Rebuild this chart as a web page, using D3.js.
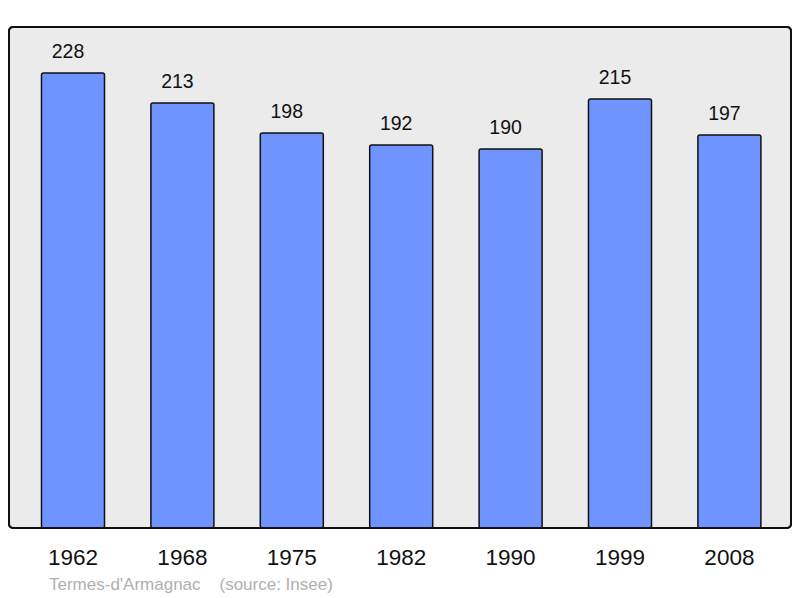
<!DOCTYPE html>
<html><head><meta charset="utf-8">
<script src="https://cdn.jsdelivr.net/npm/d3@7"></script>
<style>body{margin:0;background:#fff}svg{display:block}</style>
</head><body>
<script>
const years = ["1962","1968","1975","1982","1990","1999","2008"];
const population = [228,213,198,192,190,215,197];
const footerText = "Termes-d'Armagnac    (source: Insee)";

const W = 800, H = 598;
const svg = d3.select("body").append("svg").attr("width", W).attr("height", H);

// frame
svg.append("rect").attr("x", 9).attr("y", 27).attr("width", 782).attr("height", 501)
  .attr("rx", 4).attr("fill", "#ebebeb").attr("stroke", "#111").attr("stroke-width", 2);

const x = d3.scaleBand().domain(years).range([18.3, 784.1]).paddingInner(0.424).paddingOuter(0.212);
const y = d3.scaleLinear().domain([0, 250]).range([529, 29]);

const g = svg.append("g");
g.selectAll("rect.bar").data(population).join("rect").attr("class","bar")
  .attr("x", (d,i) => x(years[i]))
  .attr("y", d => y(d))
  .attr("width", x.bandwidth())
  .attr("height", d => y(0) - y(d) - 1)
  .attr("rx", 2)
  .attr("fill", "#7094ff").attr("stroke", "#111").attr("stroke-width", 1.5);

g.selectAll("text.val").data(population).join("text").attr("class","val")
  .attr("x", (d,i) => x(years[i]) + x.bandwidth()/2 - 5)
  .attr("y", d => y(d) - 15)
  .attr("text-anchor","middle")
  .attr("font-family","Liberation Sans, Arial, sans-serif")
  .attr("font-size", 19.5).attr("fill","#111")
  .text(d => d);

// redraw frame border on top
svg.append("rect").attr("x", 9).attr("y", 27).attr("width", 782).attr("height", 501)
  .attr("rx", 4).attr("fill", "none").attr("stroke", "#111").attr("stroke-width", 2);

const xAxis = svg.append("g").attr("transform","translate(0,529)")
  .call(d3.axisBottom(x).tickSize(0).tickPadding(0));
xAxis.select(".domain").remove();
xAxis.selectAll("text").attr("y", 36).attr("dy", 0)
  .attr("font-family","Liberation Sans, Arial, sans-serif")
  .attr("font-size", 22.5).attr("fill","#111");

svg.append("text").attr("x", 49).attr("y", 590)
  .attr("font-family","Liberation Sans, Arial, sans-serif")
  .attr("font-size", 17).attr("fill","#b0b0b0")
  .style("white-space","pre")
  .text(footerText);
</script>
</body></html>
